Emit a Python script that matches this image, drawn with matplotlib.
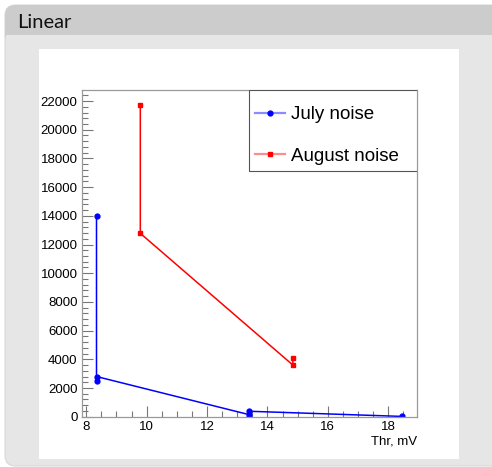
import matplotlib
matplotlib.use("Agg")
import matplotlib.pyplot as plt
from matplotlib.patches import FancyBboxPatch, Rectangle
from matplotlib.lines import Line2D
from matplotlib.ticker import MultipleLocator

# data
july_thr = [8.34, 8.34, 8.34, 13.38, 13.38, 18.44]
july_noise = [14000, 2500, 2800, 150, 380, 20]
aug_thr = [9.79, 9.79, 14.84, 14.84]
aug_noise = [21700, 12780, 3600, 4110]
labels = ["July noise", "August noise"]

W, H = 492, 467
fig = plt.figure(figsize=(W / 100, H / 100), dpi=100)
fig.patch.set_facecolor("white")

def px(x, y, w, h):
    # pixel box (top-left origin) -> figure fraction
    return x / W, 1 - (y + h) / H, w / W, h / H

# outer card
x0, y0, w0, h0 = px(5, 5, 500, 461)
fig.patches.append(FancyBboxPatch((x0, y0), w0, h0, boxstyle="round,pad=0,rounding_size=0.022",
                                  transform=fig.transFigure, fc="#e6e6e6", ec="#d8d8d8", lw=0.8, zorder=0))
# title bar
x1, y1, w1, h1 = px(5, 5, 500, 40)
fig.patches.append(FancyBboxPatch((x1, y1), w1, h1, boxstyle="round,pad=0,rounding_size=0.022",
                                  transform=fig.transFigure, fc="#cccccc", ec="none", zorder=0.5))
x2, y2, w2, h2 = px(5.5, 35, 490, 12)
fig.patches.append(Rectangle((x2, y2), w2, h2, transform=fig.transFigure, fc="#e6e6e6", ec="none", zorder=0.6))
fig.text(17 / W, 1 - 28 / H, "Linear", fontsize=14.5, family="Lato", color="#111111", va="baseline")
# white panel
x3, y3, w3, h3 = px(39, 49, 420, 410)
fig.patches.append(Rectangle((x3, y3), w3, h3, transform=fig.transFigure, fc="white", ec="none", zorder=1))

ax = fig.add_axes(px(81.7, 90, 335, 326.7))
ax.set_zorder(2)
ax.set_xlim(7.85, 18.94)
ax.set_ylim(0, 22770)

ax.plot(july_thr, july_noise, color="#0000ff", lw=1.1, marker="o", ms=3.5, mec="#0000ff")
ax.plot(aug_thr, aug_noise, color="#ff0000", lw=1.1, marker="s", ms=3, mec="#ff0000")

ax.xaxis.set_major_locator(MultipleLocator(2))
ax.xaxis.set_minor_locator(MultipleLocator(0.5))
ax.yaxis.set_major_locator(MultipleLocator(2000))
ax.yaxis.set_minor_locator(MultipleLocator(400))
for lab in ax.get_xticklabels() + ax.get_yticklabels():
    lab.set_family("Liberation Sans")
ax.tick_params(which="both", direction="in", top=False, right=False, color="#777777", width=0.8,
               labelsize=9.5, pad=3)
ax.tick_params(which="major", length=8)
ax.tick_params(which="minor", length=4)
for s in ax.spines.values():
    s.set_color("#999999")
    s.set_linewidth(0.9)

ax.set_xlabel("Thr, mV", fontsize=9.5, family="Liberation Sans", loc="right", labelpad=2)

# legend box like ROOT's TLegend
ax.add_patch(Rectangle((0.4994, 0.753), 0.5006, 0.247, transform=ax.transAxes, fc="white",
                       ec="#555555", lw=0.8, zorder=3))
handles = []
for c, m, ms in [("#0000ff", "o", 3.5), ("#ff0000", "s", 3)]:
    handles.append((Line2D([], [], color=c, lw=1.6, alpha=0.45),
                    Line2D([], [], color=c, lw=0, marker=m, ms=ms)))
leg = ax.legend(handles, labels, loc="upper left", bbox_to_anchor=(0.517, 0.950), frameon=False,
                borderaxespad=0, borderpad=0, prop={"family": "Liberation Sans", "size": 13.5},
                handlelength=1.6, handletextpad=0.3, labelspacing=1.3)
leg.set_zorder(4)

fig.savefig("out.png", dpi=100)
